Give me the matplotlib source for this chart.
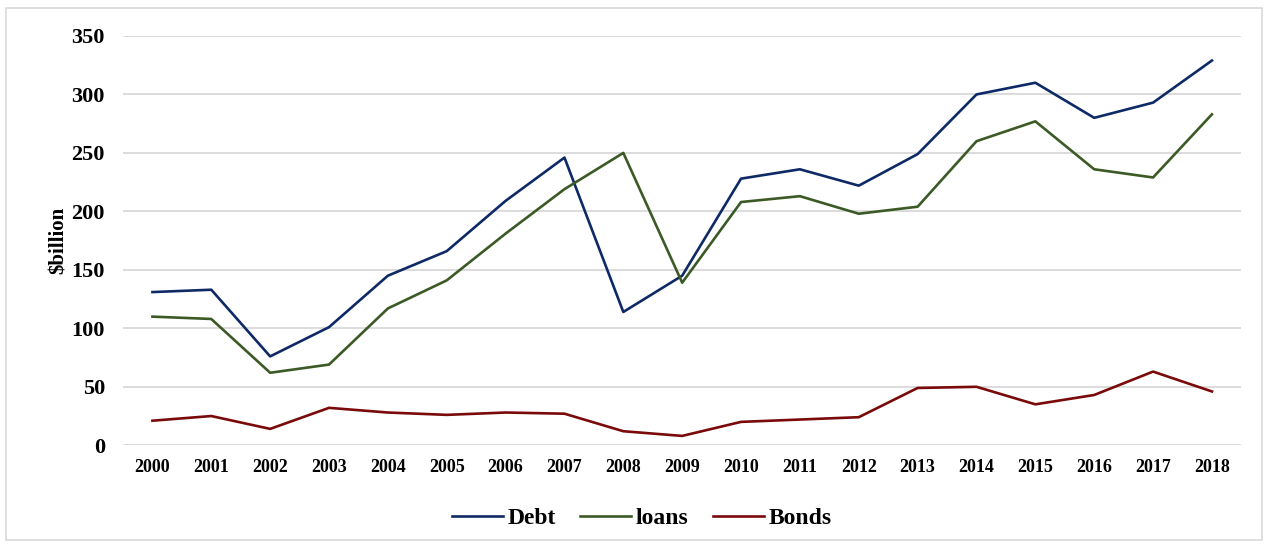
import matplotlib as mpl
import matplotlib.pyplot as plt
from matplotlib.patches import Rectangle

mpl.rcParams["font.family"] = "serif"
mpl.rcParams["font.serif"] = ["Liberation Serif", "DejaVu Serif"]
mpl.rcParams["font.weight"] = "bold"

# --------------------------------------------------------------------
# Data ($billion)
# --------------------------------------------------------------------
YEARS = [str(y) for y in range(2000, 2019)]
DEBT = [131, 133, 76, 101, 145, 166, 209, 246, 114, 145,
        228, 236, 222, 249, 300, 310, 280, 293, 329]
LOANS = [110, 108, 62, 69, 117, 141, 181, 219, 250, 139,
         208, 213, 198, 204, 260, 277, 236, 229, 283]
BONDS = [21, 25, 14, 32, 28, 26, 28, 27, 12, 8,
         20, 22, 24, 49, 50, 35, 43, 63, 46]

C_DEBT = "#0E2A66"
C_LOANS = "#3B5A26"
C_BONDS = "#7A0A0A"

fig = plt.figure(figsize=(12.68, 5.45), dpi=100)
ax = fig.add_axes([0.097, 0.183, 0.882, 0.751])

x = range(len(YEARS))
ax.plot(x, DEBT, color=C_DEBT, lw=1.9, label="Debt")
ax.plot(x, LOANS, color=C_LOANS, lw=1.9, label="loans")
ax.plot(x, BONDS, color=C_BONDS, lw=1.9, label="Bonds")

ax.set_xlim(-0.5, len(YEARS) - 0.5)
ax.set_ylim(0, 350)
ax.set_yticks(range(0, 351, 50))
ax.set_xticks(list(x))
ax.set_xticklabels(YEARS, fontsize=13, fontweight="bold")
ax.tick_params(axis="y", labelsize=16, length=0, pad=13)
ax.tick_params(axis="x", length=0, pad=10)
ax.set_ylabel("$billion", fontsize=15, fontweight="bold", labelpad=2)

ax.grid(axis="y", color="#D9D9D9", lw=1.3)
ax.set_axisbelow(True)
for s in ax.spines.values():
    s.set_visible(False)

ax.legend(loc="upper center", bbox_to_anchor=(0.464, -0.10), ncol=3,
          frameon=False, fontsize=17, handlelength=2.15, columnspacing=1.05,
          handletextpad=0.2)

# light outer border of the chart area
fig.patches.append(Rectangle((0.005, 0.01), 0.99, 0.975, transform=fig.transFigure,
                             fill=False, edgecolor="#D9D9D9", lw=1.2))

fig.savefig("out.png", dpi=100, facecolor="white")
